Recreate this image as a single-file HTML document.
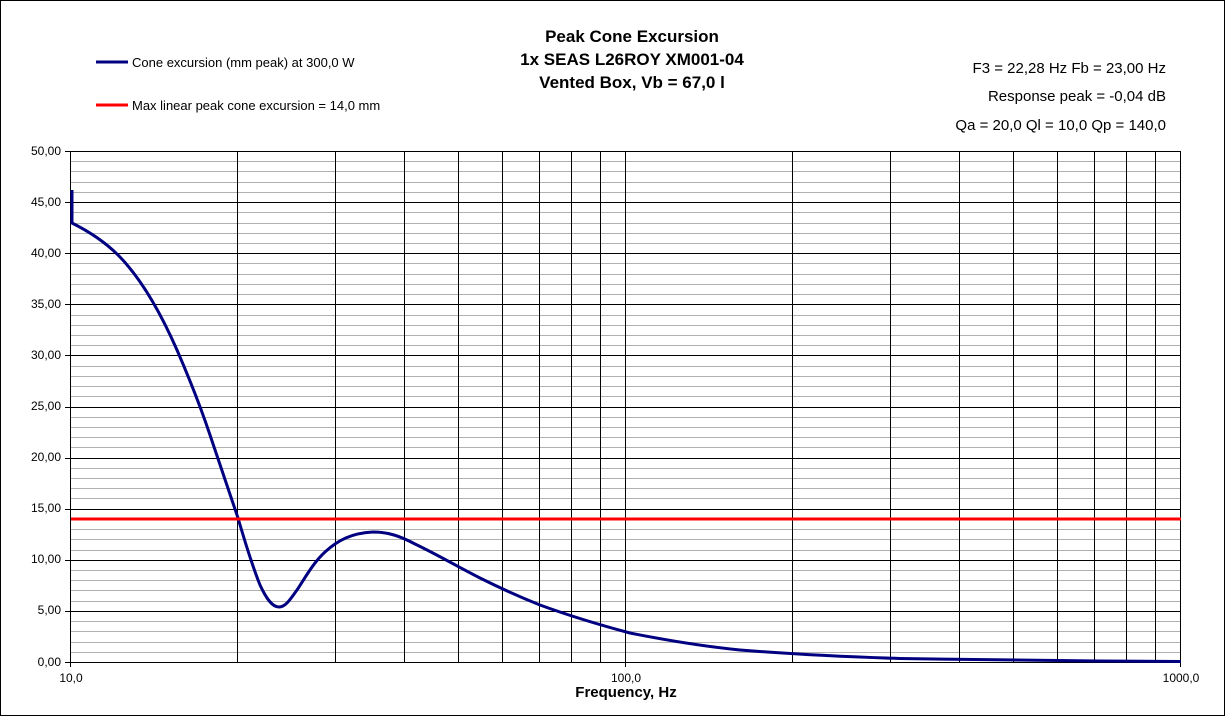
<!DOCTYPE html><html><head><style>body{margin:0;background:#fff}svg{display:block;font-family:"Liberation Sans",Arial,sans-serif}</style></head><body>
<svg width="1225" height="716" xmlns="http://www.w3.org/2000/svg">
<rect x="0.5" y="0.5" width="1224" height="715" fill="#fff" stroke="#000"/>
<g id="minor" stroke="#b0b0b0" stroke-width="1"></g>
<g id="major" stroke="#000" stroke-width="1"></g>
<script>
var mi=document.getElementById('minor'),ma=document.getElementById('major'),ns='http://www.w3.org/2000/svg';
function L(g,x1,y1,x2,y2){var l=document.createElementNS(ns,'line');l.setAttribute('x1',x1);l.setAttribute('y1',y1);l.setAttribute('x2',x2);l.setAttribute('y2',y2);g.appendChild(l);}
for(var i=0;i<=50;i++){var y=Math.round(662-i*10.22)+0.5;if(i%5)L(mi,71,y,1181,y);else{L(ma,65,y,1181,y);}}
for(var d=0;d<2;d++)for(var k=1;k<=10;k++){var x=Math.round(71+555*(d+Math.log10(k)))-0.5;L(ma,x,151,x,(k==1||k==10)?667:662);}
</script>
<path fill="none" stroke="#000080" stroke-width="3" stroke-linejoin="round" d="M72,190 L72,223 C90,232 105,242 118,255 C135,272 155,300 177,350 C190,380 200,405 210,435 C220,465 230,495 238,518 C245,542 252,565 260,585 C266,598 272,607 279,607 C286,607 291,598 297,590 C305,578 313,563 325,552 C338,540 352,533 373,532 C388,532 400,536 415,544 C440,556 460,568 480,578 C500,588 520,597 540,605 C570,616 600,625 630,633 C660,639 700,646 740,650 C790,654 850,657 900,658.5 C960,659.5 1000,660 1100,661 L1181,661.5"/>
<line x1="71" y1="519" x2="1181" y2="519" stroke="#ff0000" stroke-width="3"/>
<g font-size="12" text-anchor="end">
<text x="61" y="155">50,00</text><text x="61" y="206">45,00</text><text x="61" y="257">40,00</text><text x="61" y="308">35,00</text><text x="61" y="359">30,00</text><text x="61" y="410">25,00</text><text x="61" y="461">20,00</text><text x="61" y="512">15,00</text><text x="61" y="563">10,00</text><text x="61" y="614">5,00</text><text x="61" y="666">0,00</text>
</g>
<g font-size="12" text-anchor="middle"><text x="71" y="682">10,0</text><text x="626" y="682">100,0</text><text x="1181" y="682">1000,0</text></g>
<text x="626" y="697" font-size="15" font-weight="bold" text-anchor="middle">Frequency, Hz</text>
<g font-size="17" font-weight="bold" text-anchor="middle"><text x="632" y="42">Peak Cone Excursion</text><text x="632" y="65">1x SEAS  L26ROY XM001-04</text><text x="632" y="88">Vented Box, Vb = 67,0 l</text></g>
<line x1="96" y1="62" x2="128" y2="62" stroke="#000080" stroke-width="3"/>
<text x="132" y="67" font-size="13">Cone excursion (mm peak) at 300,0 W</text>
<line x1="96" y1="105" x2="128" y2="105" stroke="#ff0000" stroke-width="3"/>
<text x="132" y="110" font-size="13">Max linear peak cone excursion = 14,0 mm</text>
<g font-size="15" text-anchor="end"><text x="1166" y="73">F3 = 22,28 Hz  Fb = 23,00 Hz</text><text x="1166" y="101">Response  peak = -0,04 dB</text><text x="1166" y="130">Qa = 20,0  Ql = 10,0  Qp = 140,0</text></g>
</svg></body></html>
